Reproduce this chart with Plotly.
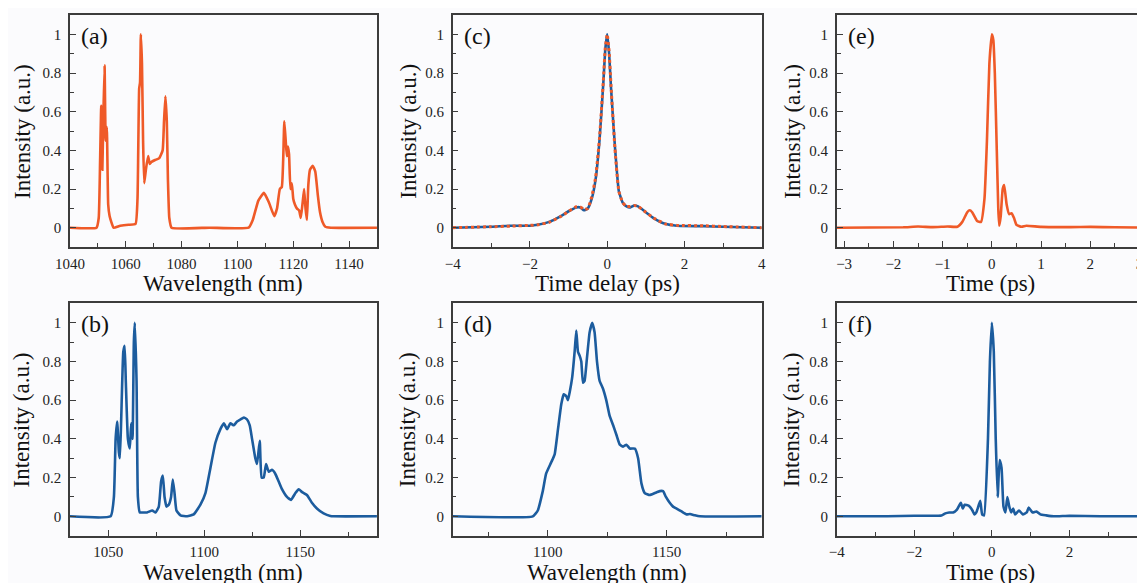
import plotly.graph_objects as go

# ---- data ----
# (a) spectrum, orange
a_wl = [1040, 1049.5, 1050.3, 1050.8, 1051.2, 1051.6, 1052.0, 1052.4, 1052.8, 1053.2,
        1053.7, 1054.2, 1054.8, 1055.6, 1058, 1061, 1063.5, 1064.2, 1064.8, 1065.1,
        1065.4, 1065.8, 1066.2, 1066.6, 1067.2, 1068.0, 1068.6, 1069.2, 1070.5, 1072.0,
        1073.2, 1073.7, 1074.2, 1074.7, 1075.1, 1075.6, 1076.4, 1090, 1104, 1105.5,
        1107.5, 1109.5, 1111.3, 1113.2, 1114.2, 1115.2, 1115.9, 1116.4, 1116.8, 1117.3,
        1117.7, 1118.1, 1118.5, 1119.0, 1119.5, 1120.0, 1120.6, 1121.3, 1122.1, 1122.7,
        1123.3, 1123.9, 1124.4, 1124.9, 1125.4, 1126.0, 1127.0, 1127.9, 1128.8, 1129.6,
        1130.5, 1131.5, 1133.5, 1150]
a_int = [0, 0, 0.05, 0.35, 0.63, 0.30, 0.60, 0.84, 0.45, 0.52,
         0.12, 0.06, 0.03, 0.0, 0.01, 0.015, 0.02, 0.15, 0.72, 0.75,
         1.0, 0.85, 0.45, 0.23, 0.30, 0.37, 0.33, 0.34, 0.35, 0.36,
         0.40, 0.55, 0.68, 0.55, 0.25, 0.05, 0.0, 0.0, 0.0, 0.04,
         0.14, 0.18, 0.13, 0.06, 0.10, 0.20, 0.21, 0.35, 0.55, 0.45,
         0.37, 0.42, 0.38, 0.20, 0.23, 0.15, 0.12, 0.10, 0.09, 0.05,
         0.12, 0.20, 0.10, 0.04, 0.22, 0.30, 0.32, 0.29, 0.17, 0.08,
         0.03, 0.005, 0, 0]

# (b) spectrum, blue
b_wl = [1030, 1051.2, 1052.9, 1053.8, 1054.6, 1055.5, 1056.0, 1056.7, 1057.8, 1058.5,
        1059.1, 1060.2, 1061.2, 1061.9, 1062.6, 1063.3, 1063.8, 1064.7, 1065.4, 1066.4,
        1068.5, 1070.2, 1072.9, 1074.6, 1076.3, 1077.5, 1078.4, 1079.3, 1080.3, 1081.5,
        1082.7, 1083.6, 1084.5, 1085.5, 1087.6, 1091.1, 1094.5, 1098.0, 1100.6, 1103.2,
        1105.8, 1108.4, 1110.2, 1111.9, 1113.6, 1115.4, 1117.1, 1118.8, 1120.6, 1122.3,
        1123.7, 1124.9, 1126.6, 1127.5, 1128.9, 1129.9, 1131.0, 1132.2, 1133.6, 1135.3,
        1137.0, 1138.8, 1140.5, 1143.1, 1145.2, 1147.5, 1149.2, 1151.0, 1153.5, 1156.1,
        1158.7, 1162.2, 1165.7, 1167.4, 1190]
b_int = [0, 0, 0.10, 0.40, 0.49, 0.33, 0.30, 0.50, 0.85, 0.88,
         0.70, 0.40, 0.35, 0.48, 0.40, 0.90, 1.0, 0.70, 0.10, 0.02,
         0.02, 0.02, 0.03, 0.02, 0.05, 0.18, 0.21, 0.10, 0.05, 0.06,
         0.10, 0.19, 0.12, 0.03, 0.005, 0.0, 0.01, 0.06, 0.12, 0.25,
         0.38, 0.45, 0.48, 0.45, 0.48, 0.47, 0.49, 0.50, 0.51, 0.50,
         0.47, 0.40, 0.30, 0.27, 0.39, 0.20, 0.20, 0.27, 0.23, 0.24,
         0.22, 0.18, 0.14, 0.10, 0.085, 0.12, 0.14, 0.125, 0.11, 0.07,
         0.04, 0.015, 0.002, 0, 0]

# (c) autocorrelation: measured (blue) and calculated (orange dotted)
c_t = [-4, -3, -2.5, -2, -1.8, -1.5, -1.2, -1.0, -0.8, -0.7,
       -0.6, -0.5, -0.4, -0.3, -0.2, -0.1, -0.05, 0, 0.05, 0.1,
       0.2, 0.3, 0.4, 0.5, 0.6, 0.7, 0.8, 1.0, 1.2, 1.5,
       1.8, 2.5, 3, 4]
c_meas = [0, 0.005, 0.01, 0.01, 0.015, 0.03, 0.06, 0.085, 0.105, 0.105,
          0.09, 0.10, 0.15, 0.25, 0.45, 0.75, 0.92, 1.0, 0.90, 0.72,
          0.42, 0.19, 0.13, 0.11, 0.105, 0.115, 0.11, 0.08, 0.05, 0.02,
          0.01, 0.008, 0.005, 0]
c_calc = [0, 0.005, 0.008, 0.012, 0.015, 0.028, 0.058, 0.085, 0.108, 0.108,
          0.095, 0.10, 0.16, 0.26, 0.46, 0.76, 0.93, 1.0, 0.91, 0.73,
          0.41, 0.19, 0.13, 0.11, 0.11, 0.115, 0.11, 0.08, 0.05, 0.02,
          0.012, 0.01, 0.006, 0]

# (d) spectrum, blue
d_wl = [1060, 1093.7, 1095.8, 1097.9, 1099.3, 1101.5, 1102.9, 1104.3, 1105.7, 1106.7,
        1107.8, 1108.5, 1109.2, 1110.3, 1111.3, 1112.0, 1112.7, 1113.4, 1114.1, 1114.8,
        1115.5, 1116.5, 1117.6, 1118.7, 1119.7, 1120.7, 1121.8, 1123.2, 1124.6, 1126.0,
        1127.5, 1128.9, 1130.3, 1131.7, 1133.1, 1134.5, 1136.6, 1138.0, 1139.4, 1140.8,
        1142.9, 1145.0, 1147.1, 1148.5, 1149.7, 1151.3, 1152.7, 1154.2, 1156.3, 1158.4,
        1159.8, 1161.9, 1164.0, 1190]
d_int = [0, 0, 0.03, 0.13, 0.22, 0.28, 0.32, 0.45, 0.58, 0.63,
         0.62, 0.60, 0.64, 0.72, 0.85, 0.96, 0.85, 0.83, 0.80, 0.69,
         0.70, 0.82, 0.95, 1.0, 0.95, 0.80, 0.70, 0.66, 0.60, 0.52,
         0.47, 0.42, 0.37, 0.36, 0.37, 0.35, 0.35, 0.30, 0.17, 0.12,
         0.11, 0.12, 0.13, 0.13, 0.10, 0.07, 0.05, 0.04, 0.025, 0.01,
         0.012, 0.005, 0, 0]

# (e) retrieved pulse, orange
e_t = [-3.15, -1.8, -1.5, -1.2, -0.9, -0.7, -0.6, -0.5, -0.45, -0.4,
       -0.3, -0.22, -0.15, -0.1, -0.05, 0, 0.03, 0.06, 0.1, 0.13,
       0.15, 0.18, 0.22, 0.25, 0.3, 0.35, 0.4, 0.45, 0.5, 0.6,
       0.7, 1.0, 1.6, 2.0, 2.5, 3.15]
e_int = [0, 0.002, 0.006, 0.003, 0.006, 0.005, 0.03, 0.08, 0.09, 0.08,
         0.035, 0.03, 0.15, 0.45, 0.85, 1.0, 0.97, 0.80, 0.40, 0.10,
         0.01, 0.06, 0.20, 0.22, 0.12, 0.07, 0.075, 0.05, 0.015, 0.005,
         0.01, 0.004, 0.003, 0.004, 0.002, 0]

# (f) retrieved pulse, blue
f_t = [-4, -2.7, -2.0, -1.3, -1.2, -1.1, -1.0, -0.9, -0.8, -0.75,
       -0.7, -0.6, -0.5, -0.45, -0.4, -0.3, -0.25, -0.2, -0.1, -0.05,
       0, 0.05, 0.1, 0.15, 0.2, 0.25, 0.3, 0.35, 0.4, 0.45,
       0.5, 0.55, 0.6, 0.7, 0.8, 0.9, 0.95, 1.05, 1.15, 1.25,
       1.4, 1.6, 2.0, 2.8, 4]
f_int = [0, 0.0, 0.003, 0.004, 0.015, 0.02, 0.02, 0.035, 0.07, 0.04,
         0.06, 0.055, 0.03, 0.01, 0.02, 0.08, 0.01, 0.005, 0.40, 0.80,
         1.0, 0.85, 0.40, 0.10, 0.29, 0.25, 0.05, 0.02, 0.10, 0.05,
         0.02, 0.04, 0.01, 0.03, 0.01, 0.02, 0.045, 0.02, 0.025, 0.01,
         0.005, 0.0, 0.003, 0.0, 0]

y_ticks = [0, 0.2, 0.4, 0.6, 0.8, 1]
y_labels = ["0", "0.2", "0.4", "0.6", "0.8", "1"]

ORANGE = "#EF5A28"
BLUE = "#1C5C9E"
FONT = "Liberation Serif, Times New Roman, serif"

fig = go.Figure()

def line(x, y, color, ax, dash="solid", width=2.6):
    fig.add_trace(go.Scatter(x=x, y=y, mode="lines", xaxis="x" + ax, yaxis="y" + ax,
                             line=dict(color=color, width=width, dash=dash, shape="spline", smoothing=0.4),
                             showlegend=False, hoverinfo="skip"))

line(a_wl, a_int, ORANGE, "")
line(c_t, c_meas, BLUE, "2")
line(c_t, c_calc, ORANGE, "2", dash="dot", width=3)
line(e_t, e_int, ORANGE, "3")
line(b_wl, b_int, BLUE, "4")
line(d_wl, d_int, BLUE, "5")
line(f_t, f_int, BLUE, "6")

# page body adds an 8px margin, so the figure is 1137x575
W, H = 1137, 575
col_dom = [[0.0545, 0.3245], [0.3911, 0.6629], [0.7289, 1.0]]
row_dom = [[0.5843, 0.9878], [0.0823, 0.4864]]
ytitle_px = [48, 45, 45]

# per panel: (x range, major dtick, minor dtick, x title)
panels = [
    ([1040, 1150], 20, 10, "Wavelength (nm)"),
    ([-4, 4], 2, 1, "Time delay (ps)"),
    ([-3.15, 3.11], 1, 0.5, "Time (ps)"),
    ([1030, 1190], 50, 25, "Wavelength (nm)"),
    ([1060, 1190], 50, 25, "Wavelength (nm)"),
    ([-4, 3.95], 2, 1, "Time (ps)"),
]
tags = ["(a)", "(c)", "(e)", "(b)", "(d)", "(f)"]

axis_common = dict(showline=True, linecolor="#3c3c3c", linewidth=1.5, mirror=True,
                   ticks="inside", ticklen=6, tickwidth=1.2, tickcolor="#3c3c3c",
                   showgrid=False, zeroline=False, automargin=False,
                   tickfont=dict(family=FONT, size=15, color="#222"))

title_font = dict(family=FONT, size=24, color="#111")

layout = {}
for i, (rng, dt, mdt, title) in enumerate(panels):
    r, c = divmod(i, 3)
    key = "" if i == 0 else str(i + 1)
    layout["xaxis" + key] = dict(axis_common, domain=col_dom[c], anchor="y" + key, range=rng,
                                 dtick=dt, tick0=0, ticklabelstandoff=2,
                                 minor=dict(dtick=mdt, ticks="inside", ticklen=4, tickcolor="#3c3c3c"))
    layout["yaxis" + key] = dict(axis_common, domain=row_dom[r], anchor="x" + key, range=[-0.1, 1.1],
                                 tickvals=y_ticks, ticktext=y_labels, ticklabelstandoff=4,
                                 minor=dict(dtick=0.1, tick0=0, ticks="inside", ticklen=4, tickcolor="#3c3c3c"))
    xw = (col_dom[c][1] - col_dom[c][0]) * W
    yh = (row_dom[r][1] - row_dom[r][0]) * H
    xd = "x" + key + " domain"
    yd = "y" + key + " domain"
    fig.add_annotation(text=tags[i], xref=xd, yref=yd,
                       x=0.03, y=0.975, xanchor="left", yanchor="top", showarrow=False,
                       font=title_font)
    fig.add_annotation(text=title, xref=xd, yref=yd, x=0.5, y=-(36 + r) / yh,
                       xanchor="center", yanchor="middle", showarrow=False,
                       font=dict(family=FONT, size=23, color="#111"))
    fig.add_annotation(text="Intensity (a.u.)", xref=xd, yref=yd, x=-ytitle_px[c] / xw, y=0.5,
                       textangle=-90, xanchor="center", yanchor="middle", showarrow=False,
                       font=dict(family=FONT, size=23, color="#111"))

fig.update_layout(**layout)
fig.update_layout(width=W, height=H, margin=dict(l=0, r=0, t=0, b=0),
                  font=dict(family=FONT),
                  paper_bgcolor="#FBFBFD", plot_bgcolor="#FBFBFD")

fig.write_html("out.html")
